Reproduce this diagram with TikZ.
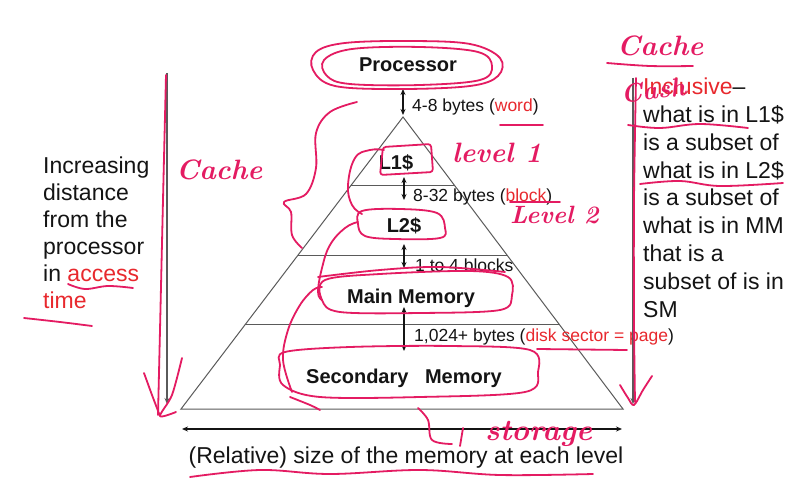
\documentclass[tikz,border=0pt]{standalone}
\usepackage{fontspec}
\newfontfamily\arial{Liberation Sans}
\usetikzlibrary{arrows.meta,calc}
\definecolor{ink}{RGB}{228,27,98}
\definecolor{slred}{RGB}{232,40,45}
\definecolor{linegray}{RGB}{90,90,90}
\definecolor{txt}{RGB}{20,20,20}
\begin{document}
\begin{tikzpicture}[x=1pt,y=-1pt,
  lvl/.style={font=\arial\bfseries\fontsize{20}{24}\selectfont, text=txt, inner sep=0pt, anchor=base},
  lbl/.style={font=\arial\fontsize{17.5}{21}\selectfont, text=txt, inner sep=0pt, anchor=base west},
  big/.style={font=\arial\fontsize{23}{27.5}\selectfont, text=txt, inner sep=0pt},
  edgeline/.style={draw=linegray, line width=1pt},
  dbl/.style={{Stealth[length=6pt,width=5pt]}-{Stealth[length=6pt,width=5pt]}, line width=1.1pt, draw=txt},
  inkline/.style={draw=ink, line width=1.8pt, line cap=round, line join=round},
  hand/.style={text=ink, font=\bfseries\itshape\fontsize{28}{32}\selectfont, inner sep=0pt, anchor=base west}]
\fill[white] (0,0) rectangle (800,497);
\useasboundingbox (0,0) rectangle (800,497);

% pyramid
\coordinate (apex) at (403,117);
\coordinate (bl) at (181,409);
\coordinate (br) at (623,409);
\draw[edgeline] (bl) -- (apex) -- (br) -- cycle;
\draw[edgeline] ($(apex)!0.236!(bl)$) -- ($(apex)!0.236!(br)$);
\draw[edgeline] ($(apex)!0.473!(bl)$) -- ($(apex)!0.473!(br)$);
\draw[edgeline] ($(apex)!0.712!(bl)$) -- ($(apex)!0.712!(br)$);

% level texts
\node[lvl] (proc) at (408,72) {Processor};
\node[lvl] (l1) at (396,170) {L1\$};
\node[lvl] (l2) at (404,233) {L2\$};
\node[lvl] (mm) at (411,303) {Main Memory};
\node[lvl] (sm) at (404,383) {Secondary\hspace{0.55em} Memory};

% transfer arrows
\coordinate (a1t) at (403,89); \coordinate (a1b) at (403,115);
\coordinate (a2t) at (404,177); \coordinate (a2b) at (404,200);
\coordinate (a3t) at (404,244); \coordinate (a3b) at (404,268);
\coordinate (a4t) at (404,307); \coordinate (a4b) at (404,351);
\draw[dbl] (a1t) -- (a1b);
\draw[dbl] (a2t) -- (a2b);
\draw[dbl] (a3t) -- (a3b);
\draw[dbl, line width=2.6pt] (a4t) -- (a4b);
\node[lbl] (w1) at (412,112) {4-8 bytes ({\color{slred}word})};
\node[lbl] (w2) at (413,202) {8-32 bytes ({\color{slred}block})};
\node[lbl] (w3) at (415,271) {1 to 4 blocks};
\node[lbl] (w4) at (414,341) {1,024+ bytes ({\color{slred}disk sector = page})};

% side arrows
\coordinate (lt) at (167,73); \coordinate (lb) at (167,404);
\coordinate (rt) at (633,78); \coordinate (rb) at (633,404);
\draw[draw=linegray, line width=1.6pt, -{Stealth[length=6pt,width=5pt]}] (lt) -- (lb);
\draw[draw=linegray, line width=1.6pt, -{Stealth[length=6pt,width=5pt]}] (rt) -- (rb);
\coordinate (bl2) at (182,429); \coordinate (br2) at (622,429);
\draw[draw=txt, line width=1.1pt, {Stealth[length=6pt,width=5pt]}-{Stealth[length=6pt,width=5pt]}] (bl2) -- (br2);

% side texts (base = last line)
\node[big, font=\arial\fontsize{23}{27}\selectfont, align=left, anchor=base west] (dist) at (43,308)
  {Increasing\\distance\\from the\\processor\\in {\color{slred}access}\\{\color{slred}time}};
\node[big, font=\arial\fontsize{23}{27.8}\selectfont, align=left, anchor=base west] (incl) at (643,317)
  {{\color{slred}Inclusive}–\\what is in L1\$\\is a subset of\\what is in L2\$\\is a subset of\\what is in MM\\that is a\\subset of is in\\SM};
\node[big, anchor=base] (size) at (406,463) {(Relative) size of the memory at each level};

% ---------- handwritten annotations ----------
\node[hand] (hc1) at (176,180) {Cache};
\node[hand] (hc2) at (617,56) {Cache};
\node[hand] (hl1) at (452,163) {level 1};
\node[hand, font=\bfseries\itshape\fontsize{25}{30}\selectfont] (hl2) at (510,223) {Level 2};
\node[hand, font=\bfseries\itshape\fontsize{26}{30}\selectfont, rotate=8] (hcash) at (622,104) {Cash};
\node[hand, font=\bfseries\itshape\fontsize{30}{34}\selectfont] (hst) at (485,440) {storage};

% loops round the levels
\draw[inkline] plot[smooth cycle, tension=0.6] coordinates
  {(316,52) (345,43) (410,41) (470,44) (500,58) (498,76) (470,86) (400,89) (335,86) (313,70)};
\draw[inkline] plot[smooth cycle, tension=0.6] coordinates
  {(324,60) (352,49) (420,47) (478,52) (492,66) (480,80) (420,85) (350,84) (327,76)};
\draw[inkline, rounded corners=3pt] (383,147) -- (431,144) -- (433,172) -- (380,175) -- cycle;
\draw[inkline] plot[smooth, tension=0.7] coordinates
  {(384,150) (370,150) (355,158) (348,185) (352,205) (362,214)};
\draw[inkline] plot[smooth cycle, tension=0.6] coordinates
  {(362,211) (400,209) (437,213) (445,228) (440,238) (395,239) (365,236) (358,224)};
\draw[inkline] plot[smooth, tension=0.7] coordinates
  {(358,222) (345,228) (330,245) (322,268) (318,292) (322,300)};
\draw[inkline] plot[smooth cycle, tension=0.55] coordinates
  {(325,280) (380,274) (470,271) (508,277) (512,295) (500,310) (420,313) (340,312) (322,300)};
\draw[inkline] plot[smooth, tension=0.6] coordinates
  {(318,277) (380,270) (440,267) (505,272)};
\draw[inkline] plot[smooth cycle, tension=0.55] coordinates
  {(285,352) (350,347) (450,346) (530,350) (538,372) (525,392) (420,397) (320,397) (283,385) (280,365)};
\draw[inkline] plot[smooth, tension=0.6] coordinates
  {(292,392) (283,360) (288,330) (300,305) (313,290) (322,287)};
\draw[inkline] plot[smooth, tension=0.6] coordinates
  {(290,397) (310,405) (320,410)};

% curly brace
\draw[inkline] plot[smooth, tension=0.6] coordinates
  {(357,102) (330,112) (316,133) (316,168) (306,194) (284,202) (291,212) (292,235) (302,248)};

% side strokes with arrow heads
\draw[inkline] plot[smooth, tension=0.5] coordinates {(166,75) (163,200) (160,330) (158,415)};
\draw[inkline] plot[smooth, tension=0.5] coordinates {(144,373) (152,395) (160,416)};
\draw[inkline] plot[smooth, tension=0.5] coordinates {(182,358) (172,395) (160,416) (176,412)};
\draw[inkline] plot[smooth, tension=0.5] coordinates {(636,78) (634,200) (634,320) (635,402)};
\draw[inkline] plot[smooth, tension=0.5] coordinates {(620,385) (628,398) (634,405) (643,390) (652,376)};

% underlines
\draw[inkline] plot[smooth, tension=0.6] coordinates {(68,284) (85,289) (108,286) (133,288)};
\draw[inkline] plot[smooth, tension=0.6] coordinates {(24,318) (60,322) (92,326)};
\draw[inkline] plot[smooth, tension=0.6] coordinates {(607,63) (650,66) (693,66)};
\draw[inkline] plot[smooth, tension=0.6] coordinates {(628,125) (660,128) (700,124) (748,128)};
\draw[inkline] plot[smooth, tension=0.6] coordinates {(640,184) (680,181) (720,186) (783,183)};
\draw[inkline] (537,349) -- (627,350);
\draw[inkline] (500,125) -- (543,125);
\draw[inkline] (510,202) -- (560,202);
\draw[inkline] plot[smooth, tension=0.6] coordinates {(190,477) (260,470) (330,474) (420,470) (500,475) (593,474)};
\draw[inkline] plot[smooth, tension=0.6] coordinates {(418,408) (428,420) (432,440) (452,444)};
\draw[inkline] (463,428) -- (460,446);
\end{tikzpicture}
\end{document}
